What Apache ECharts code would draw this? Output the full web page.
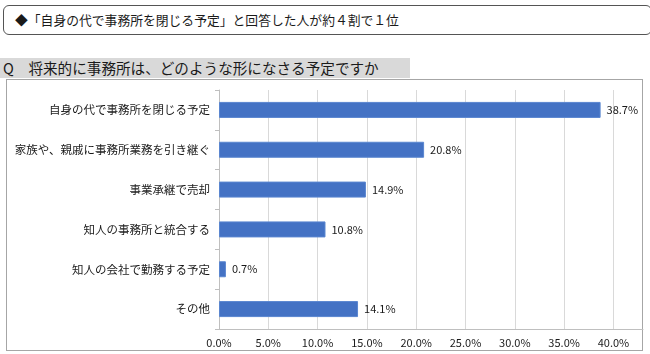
<!DOCTYPE html>
<html>
<head>
<meta charset="utf-8">
<script src="https://cdn.jsdelivr.net/npm/echarts@6/dist/echarts.min.js"></script>
<style>
 body { margin:0; background:#fff; font-family:"Noto Sans CJK JP", sans-serif; color:#1a1a1a; }
 #wrap { position:relative; width:650px; height:354px; overflow:hidden; }
 #headline { position:absolute; left:3px; top:5px; width:636px; height:28px; border:1.5px solid #555; border-radius:6px;
   font-size:12.8px; line-height:28px; padding-left:11px; box-sizing:content-box; }
 #question { position:absolute; left:0; top:58px; width:410px; height:20px; background:#d9d9d9;
   font-size:14.6px; line-height:20px; padding-left:3px; box-sizing:border-box; white-space:nowrap; }
 #frame { position:absolute; left:6px; top:79px; width:637px; height:272px; border:1px solid #a6a6a6; box-sizing:border-box; }
 #chart { position:absolute; left:0; top:0; width:650px; height:354px; }
</style>
</head>
<body>
<div id="wrap">
 <div id="headline">◆「自身の代で事務所を閉じる予定」と回答した人が約４割で１位</div>
 <div id="question">Q　将来的に事務所は、どのような形になさる予定ですか</div>
 <div id="frame"></div>
 <div id="chart"></div>
</div>
<script>
// 回答項目
var categories = ['自身の代で事務所を閉じる予定', '家族や、親戚に事務所業務を引き継ぐ', '事業承継で売却',
  '知人の事務所と統合する', '知人の会社で勤務する予定', 'その他'];
// 割合(%)
var values = [38.7, 20.8, 14.9, 10.8, 0.7, 14.1];

window.onload = function(){
 var chart = echarts.init(document.getElementById('chart'), null, {renderer:'canvas'});
 var option = {
   backgroundColor: 'transparent',
   animation: false,
   grid: { left: 219, top: 90, right: 7, bottom: 25 },
   xAxis: {
     type: 'value',
     min: 0,
     max: 43,
     interval: 5,
     axisLine: { show: true, lineStyle: { color: '#bfbfbf' } },
     axisTick: { show: false },
     splitLine: { show: true, showMaxLine: false, lineStyle: { color: '#d9d9d9' } },
     axisLabel: {
       margin: 8,
       color: '#1a1a1a',
       fontSize: 11,
       fontFamily: 'Noto Sans CJK JP',
       formatter: function(v){ return v % 5 === 0 ? v.toFixed(1) + '%' : ''; }
     }
   },
   yAxis: {
     type: 'category',
     data: categories,
     inverse: true,
     axisLine: { show: true, lineStyle: { color: '#bfbfbf' } },
     axisTick: { show: true, length: 4, lineStyle: { color: '#bfbfbf' } },
     axisLabel: { margin: 9, color: '#1a1a1a', fontSize: 11.5, fontFamily: 'Noto Sans CJK JP' }
   },
   series: [{
     type: 'bar',
     data: values,
     barWidth: 16,
     itemStyle: { color: '#4472c4', borderColor: '#5a86d0', borderWidth: 1 },
     label: {
       show: true,
       position: 'right',
       distance: 6,
       color: '#1a1a1a',
       fontSize: 11,
       fontFamily: 'Noto Sans CJK JP',
       formatter: function(p){ return p.value.toFixed(1) + '%'; }
     }
   }]
 };
 chart.setOption(option);
};
</script>
</body>
</html>
